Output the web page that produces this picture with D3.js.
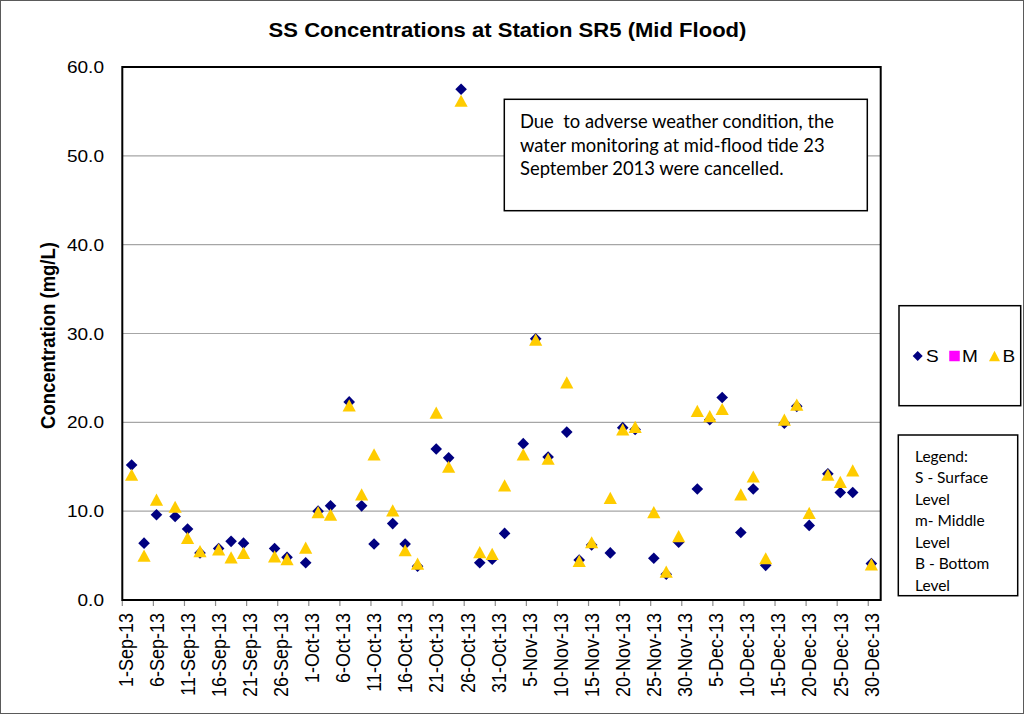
<!DOCTYPE html>
<html>
<head>
<meta charset="utf-8">
<script src="https://cdn.jsdelivr.net/npm/d3@7"></script>
<style>
  body { margin: 0; background: #fff; }
  svg { display: block; }
</style>
</head>
<body>
<svg id="chart" width="1025" height="715"></svg>
<script>
// Sampling days (mid-flood tide), 2013
const sampleDates = [
  "2013-09-02","2013-09-04","2013-09-06","2013-09-09","2013-09-11","2013-09-13",
  "2013-09-16","2013-09-18","2013-09-20","2013-09-25","2013-09-27","2013-09-30",
  "2013-10-02","2013-10-04","2013-10-07","2013-10-09","2013-10-11","2013-10-14",
  "2013-10-16","2013-10-18","2013-10-21","2013-10-23","2013-10-25","2013-10-28",
  "2013-10-30","2013-11-01","2013-11-04","2013-11-06","2013-11-08","2013-11-11",
  "2013-11-13","2013-11-15","2013-11-18","2013-11-20","2013-11-22","2013-11-25",
  "2013-11-27","2013-11-29","2013-12-02","2013-12-04","2013-12-06","2013-12-09",
  "2013-12-11","2013-12-13","2013-12-16","2013-12-18","2013-12-20","2013-12-23",
  "2013-12-25","2013-12-27","2013-12-30"
];

// SS concentration (mg/L) - surface level
const surface = [
  15.2, 6.4, 9.6, 9.4, 8.0, 5.3,
  5.8, 6.6, 6.4, 5.8, 4.8, 4.2,
  10.0, 10.6, 22.3, 10.6, 6.3, 8.6,
  6.3, 3.8, 17.0, 16.0, 57.5, 4.2,
  4.6, 7.5, 17.6, 29.4, 16.1, 18.9,
  4.5, 6.2, 5.3, 19.4, 19.2, 4.7,
  2.9, 6.5, 12.5, 20.3, 22.8, 7.6,
  12.5, 3.9, 19.9, 21.8, 8.4, 14.2,
  12.1, 12.1, 4.1
];

// Middle level - no samples at this station
const middle = [];

// SS concentration (mg/L) - bottom level
const bottom = [
  14.1, 5.0, 11.3, 10.5, 7.0, 5.5,
  5.7, 4.8, 5.3, 4.9, 4.6, 5.9,
  9.9, 9.6, 21.9, 11.9, 16.4, 10.1,
  5.6, 4.1, 21.1, 15.0, 56.2, 5.4,
  5.2, 12.9, 16.4, 29.3, 15.9, 24.5,
  4.4, 6.5, 11.5, 19.2, 19.5, 9.9,
  3.2, 7.2, 21.3, 20.7, 21.5, 11.9,
  13.9, 4.7, 20.3, 22.0, 9.8, 14.1,
  13.3, 14.6, 4.0
];

const yTicks = [0, 10, 20, 30, 40, 50, 60];
const seriesNames = ["S", "M", "B"];
const noteLines = [
  "Due  to adverse weather condition, the",
  "water monitoring at mid-flood tide 23",
  "September 2013 were cancelled."
];
const keyLines = ["Legend:", "S - Surface", "Level", "m- Middle", "Level", "B - Bottom", "Level"];

const svg = d3.select("#chart");
const W = 1025, H = 715;
const SX = 1.12;               // glyphs in this chart are slightly wide
const ARIAL = "'Liberation Sans', Arial, sans-serif";
const CAL = "Lato, 'Open Sans', sans-serif";
const NAVY = "#000080", GOLD = "#FFCC00", MAGENTA = "#FF00FF";

const plot = { left: 122.3, right: 880.7, top: 67, bottom: 600 };

const parse = d3.utcParse("%Y-%m-%d");
const day0 = Date.UTC(2013, 8, 1), dayEnd = Date.UTC(2014, 0, 1);
const x = d3.scaleUtc().domain([new Date(day0), new Date(dayEnd)]).range([plot.left, plot.right]);
const y = d3.scaleLinear().domain([0, 60]).range([plot.bottom, plot.top]);
const halfDay = (x(new Date(day0 + 864e5)) - x(new Date(day0))) / 2;

// outer frame
svg.append("rect").attr("x", 0.5).attr("y", 0.5).attr("width", W - 2).attr("height", H - 2)
  .attr("fill", "#fff").attr("stroke", "#5a5a5a").attr("stroke-width", 1);

// title
svg.append("text")
  .attr("transform", `translate(507.5,37.3) scale(${SX},1)`)
  .attr("text-anchor", "middle")
  .style("font-family", ARIAL).style("font-weight", "bold").style("font-size", "19.7px")
  .text("SS Concentrations at Station SR5 (Mid Flood)");

// horizontal gridlines
svg.append("g").selectAll("line").data(yTicks.filter(v => v > 0 && v < 60)).join("line")
  .attr("x1", plot.left).attr("x2", plot.right)
  .attr("y1", d => y(d)).attr("y2", d => y(d))
  .attr("stroke", "#a6a6a6").attr("stroke-width", 1.2);

// y tick labels
svg.append("g").selectAll("text").data(yTicks).join("text")
  .attr("transform", d => `translate(104,${y(d)}) scale(${SX},1)`)
  .attr("text-anchor", "end").attr("dy", "0.36em")
  .style("font-family", ARIAL).style("font-size", "17px")
  .text(d => d3.format(".1f")(d));

// y axis title
svg.append("text")
  .attr("transform", `translate(48,${(plot.top + plot.bottom) / 2 + 2}) scale(${SX},1) rotate(-90)`)
  .attr("text-anchor", "middle").attr("dy", "0.36em")
  .style("font-family", ARIAL).style("font-weight", "bold").style("font-size", "18.5px")
  .text("Concentration (mg/L)");

// x ticks every 5 days
const xTicks = d3.utcDay.range(new Date(day0), new Date(dayEnd), 5);
const fmt = d3.utcFormat("%-d-%b-%y");
svg.append("g").selectAll("line").data(xTicks).join("line")
  .attr("x1", d => x(d)).attr("x2", d => x(d))
  .attr("y1", plot.bottom).attr("y2", plot.bottom + 6)
  .attr("stroke", "#8c8c8c").attr("stroke-width", 1.2);
svg.append("g").selectAll("text").data(xTicks).join("text")
  .attr("transform", d => `translate(${x(d) + halfDay},613) scale(${SX},1) rotate(-90)`)
  .attr("text-anchor", "end").attr("dy", "0.36em")
  .style("font-family", ARIAL).style("font-size", "18px")
  .text(d => fmt(d));

// plot border
svg.append("rect")
  .attr("x", plot.left).attr("y", plot.top)
  .attr("width", plot.right - plot.left).attr("height", plot.bottom - plot.top)
  .attr("fill", "none").attr("stroke", "#000").attr("stroke-width", 2);

// marker shapes
const diamond = r => `M0,${-r}L${r},0L0,${r}L${-r},0Z`;
const triangle = (w, h) => `M0,${-h / 2}L${w / 2},${h / 2}L${-w / 2},${h / 2}Z`;
const square = s => `M${-s / 2},${-s / 2}h${s}v${s}h${-s}Z`;

const px = d => x(new Date(parse(d).getTime() + 432e5));

const marks = svg.append("g");
marks.append("g").selectAll("path").data(sampleDates.map((d, i) => [d, surface[i]])).join("path")
  .attr("d", diamond(5.8))
  .attr("transform", d => `translate(${px(d[0])},${y(d[1])})`)
  .attr("fill", NAVY);
marks.append("g").selectAll("path").data(middle).join("path")
  .attr("d", square(9)).attr("fill", MAGENTA);
marks.append("g").selectAll("path").data(sampleDates.map((d, i) => [d, bottom[i]])).join("path")
  .attr("d", triangle(13.2, 12.2))
  .attr("transform", d => `translate(${px(d[0])},${y(d[1])})`)
  .attr("fill", GOLD);

// note box
const note = svg.append("g");
note.append("rect").attr("x", 504.3).attr("y", 99.3).attr("width", 363).attr("height", 111.4)
  .attr("fill", "#fff").attr("stroke", "#000").attr("stroke-width", 1.5);
note.selectAll("text").data(noteLines).join("text")
  .attr("x", 520).attr("y", (d, i) => 128.3 + i * 23.3)
  .style("white-space", "pre")
  .style("font-family", CAL).style("font-size", "18.4px")
  .text(d => d);

// series legend
const leg = svg.append("g");
leg.append("rect").attr("x", 899).attr("y", 305.7).attr("width", 121.7).attr("height", 100)
  .attr("fill", "#fff").attr("stroke", "#000").attr("stroke-width", 1.5);
const legItems = [
  { name: seriesNames[0], mx: 917.7, tx: 926, shape: diamond(5), color: NAVY },
  { name: seriesNames[1], mx: 954.5, tx: 962, shape: square(10.5), color: MAGENTA },
  { name: seriesNames[2], mx: 994.5, tx: 1002.5, shape: triangle(11, 10.5), color: GOLD }
];
legItems.forEach(it => {
  leg.append("path").attr("d", it.shape).attr("transform", `translate(${it.mx},356)`).attr("fill", it.color);
  leg.append("text").attr("transform", `translate(${it.tx},356) scale(${SX},1)`).attr("dy", "0.36em")
    .style("font-family", ARIAL).style("font-size", "17px").text(it.name);
});

// level key box
const key = svg.append("g");
key.append("rect").attr("x", 898.3).attr("y", 435).attr("width", 119.4).attr("height", 160.7)
  .attr("fill", "#fff").attr("stroke", "#000").attr("stroke-width", 1.5);
key.selectAll("text").data(keyLines).join("text")
  .attr("x", 915).attr("y", (d, i) => 461.5 + i * 21.5)
  .style("font-family", CAL).style("font-size", "15.5px")
  .text(d => d);
</script>
</body>
</html>
